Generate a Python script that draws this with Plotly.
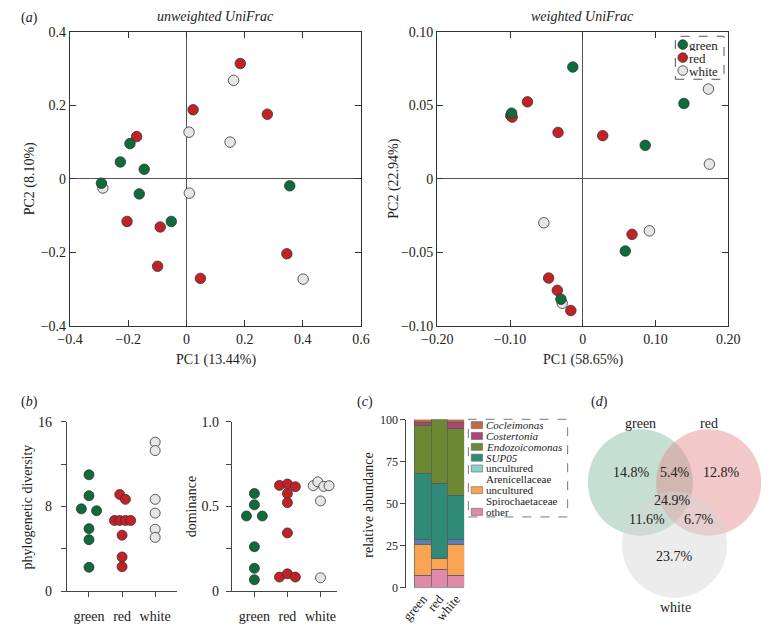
import plotly.graph_objects as go

W, H = 776, 633
FONT = "Liberation Serif, Times New Roman, serif"
INK = "#222222"

# ---------------- data ----------------
groups = ["green", "red", "white"]
group_colors = {"green": "#0e6b3b", "red": "#c42127", "white": "#e6e6e6"}

# (a) unweighted UniFrac PCoA
unw_green_pc1 = [-0.194, -0.227, -0.145, -0.292, -0.162, -0.052, 0.355]
unw_green_pc2 = [0.096, 0.046, 0.026, -0.012, -0.041, -0.116, -0.019]
unw_red_pc1 = [0.185, 0.023, 0.278, -0.171, -0.204, -0.090, -0.099, 0.048, 0.345]
unw_red_pc2 = [0.314, 0.188, 0.176, 0.115, -0.116, -0.131, -0.238, -0.271, -0.204]
unw_white_pc1 = [0.162, 0.009, 0.150, -0.287, 0.010, 0.401]
unw_white_pc2 = [0.268, 0.127, 0.100, -0.025, -0.039, -0.273]

# (a) weighted UniFrac PCoA
w_green_pc1 = [-0.0137, -0.0978, 0.139, 0.0858, 0.0584, -0.030]
w_green_pc2 = [0.0761, 0.0447, 0.0513, 0.0228, -0.0491, -0.0819]
w_red_pc1 = [-0.099, -0.097, -0.076, -0.034, 0.0274, 0.0677, -0.0469, -0.035, -0.0164]
w_red_pc2 = [0.043, 0.042, 0.0524, 0.0316, 0.0294, -0.0378, -0.0675, -0.0759, -0.0896]
w_white_pc1 = [0.1726, 0.174, -0.0535, 0.0916, -0.0283]
w_white_pc2 = [0.0611, 0.0100, -0.0299, -0.0354, -0.0847]

# (b) phylogenetic diversity and dominance (with swarm offsets)
pd_green = [11.0, 9.02, 7.78, 7.60, 5.91, 4.86, 2.25]
pd_red = [9.14, 8.68, 6.68, 6.68, 6.68, 6.68, 5.29, 3.23, 2.31]
pd_white = [14.09, 13.29, 8.68, 7.38, 5.85, 5.08]
dom_green = [0.577, 0.510, 0.444, 0.444, 0.262, 0.135, 0.067]
dom_red = [0.625, 0.633, 0.617, 0.577, 0.523, 0.344, 0.083, 0.102, 0.083]
dom_white = [0.623, 0.646, 0.619, 0.623, 0.533, 0.079]

pd_green_off = [0, 0, -0.23, 0.23, 0, 0, 0]
pd_red_off = [-0.07, 0.10, -0.23, -0.07, 0.10, 0.26, 0, 0, 0]
pd_white_off = [0, 0, 0, 0, 0, 0]
dom_green_off = [0, 0, -0.24, 0.24, 0, 0, 0]
dom_red_off = [-0.24, 0, 0.24, 0, 0, 0, -0.24, 0, 0.24]
dom_white_off = [-0.22, -0.08, 0.10, 0.26, 0, 0]

# (c) relative abundance (%)
taxa = ["Cocleimonas", "Costertonia", "Endozoicomonas", "SUP05",
        "uncultured Arenicellaceae", "uncultured Spirochaetaceae", "other"]
taxa_italic = [True, True, True, True, False, False, False]
abund_green = [2.0, 1.6, 28.3, 39.3, 2.9, 18.9, 7.0]
abund_red = [0.0, 0.0, 38.1, 44.5, 0.0, 6.8, 10.6]
abund_white = [1.9, 3.3, 39.7, 26.5, 3.1, 18.1, 7.4]
bar_colors = ["#bf6a42", "#ad4672", "#6b8934", "#2f8b78", "#5a7fb8", "#f8a453", "#de8aa8"]
legend_swatch_colors = ["#bf6a42", "#ad4672", "#6b8934", "#2f8b78", "#86d4c6", "#f8a453", "#de8aa8"]

# (d) Venn diagram percentages
venn_sets = ["green", "red", "white"]
venn_set_colors = ["rgb(126,186,157)", "rgb(226,133,133)", "rgb(213,213,213)"]
venn_pct = [14.8, 5.4, 12.8, 24.9, 11.6, 6.7, 23.7]

# ---------------- helpers ----------------
def px_x(p):
    return p / W


def px_y(p):
    return 1 - p / H


def neg(s):
    return s.replace("-", "\u2212")


tickfont = dict(family=FONT, size=14, color=INK)

fig = go.Figure()

# ---------------- (a) scatter ----------------
unw = {"green": (unw_green_pc1, unw_green_pc2), "red": (unw_red_pc1, unw_red_pc2),
       "white": (unw_white_pc1, unw_white_pc2)}
wei = {"green": (w_green_pc1, w_green_pc2), "red": (w_red_pc1, w_red_pc2),
       "white": (w_white_pc1, w_white_pc2)}
for data, ax in ((unw, ("x", "y")), (wei, ("x2", "y2"))):
    for g in ["white", "red", "green"]:
        fig.add_trace(go.Scatter(
            x=data[g][0], y=data[g][1], mode="markers", xaxis=ax[0], yaxis=ax[1],
            marker=dict(size=10.5, color=group_colors[g], line=dict(color="#333", width=0.8)),
            showlegend=False, hoverinfo="skip"))

# ---------------- (b) swarms ----------------
pd_vals = {"green": (pd_green, pd_green_off), "red": (pd_red, pd_red_off), "white": (pd_white, pd_white_off)}
dom_vals = {"green": (dom_green, dom_green_off), "red": (dom_red, dom_red_off), "white": (dom_white, dom_white_off)}
for data, ax in ((pd_vals, ("x3", "y3")), (dom_vals, ("x4", "y4"))):
    for i, g in enumerate(groups):
        vals, offs = data[g]
        fig.add_trace(go.Scatter(
            x=[i + o for o in offs], y=vals, mode="markers", xaxis=ax[0], yaxis=ax[1],
            marker=dict(size=10, color=group_colors[g], line=dict(color="#333", width=0.8)),
            showlegend=False, hoverinfo="skip", cliponaxis=False))

# ---------------- (c) stacked bars ----------------
for k in reversed(range(len(taxa))):
    fig.add_trace(go.Bar(
        x=[0, 1, 2], y=[abund_green[k], abund_red[k], abund_white[k]],
        width=1, xaxis="x5", yaxis="y5",
        marker=dict(color=bar_colors[k], line=dict(color="#555", width=0.6)),
        showlegend=False, hoverinfo="skip"))

# ---------------- axes ----------------
def box_axis(domain, rng, vals, texts, anchor):
    return dict(domain=domain, range=rng, tickvals=vals, ticktext=texts,
                ticks="inside", ticklen=6, tickwidth=1.2, tickcolor="#333",
                mirror="ticks", showline=True, linecolor="#333", linewidth=1.2,
                zeroline=True, zerolinecolor="#555", zerolinewidth=1,
                showgrid=False, anchor=anchor, tickfont=tickfont)


def open_axis(domain, rng, vals, texts, anchor, **kw):
    d = dict(domain=domain, range=rng, tickvals=vals, ticktext=texts,
             ticks="outside", ticklen=5, tickwidth=1.2, tickcolor="#444",
             showline=True, linecolor="#444", linewidth=1.2,
             zeroline=False, showgrid=False, anchor=anchor, tickfont=tickfont)
    d.update(kw)
    return d


a_xdom_l = [px_x(56), px_x(358)]
a_xdom_r = [px_x(437), px_x(739)]
a_ydom = [px_y(326.5), px_y(25.5)]

layout = dict(
    width=W, height=H, autosize=False,
    margin=dict(l=0, r=0, t=0, b=0),
    paper_bgcolor="white", plot_bgcolor="white",
    font=dict(family=FONT, size=14, color=INK),
    barmode="stack", bargap=0,
    xaxis=box_axis(a_xdom_l, [-0.4, 0.6], [-0.4, -0.2, 0, 0.2, 0.4, 0.6],
                   [neg(t) for t in ["-0.4", "-0.2", "0", "0.2", "0.4", "0.6"]], "y"),
    yaxis=box_axis(a_ydom, [-0.4, 0.4], [-0.4, -0.2, 0, 0.2, 0.4],
                   [neg(t) for t in ["-0.4", "-0.2", "0", "0.2", "0.4"]], "x"),
    xaxis2=box_axis(a_xdom_r, [-0.2, 0.2], [-0.2, -0.1, 0, 0.1, 0.2],
                    [neg(t) for t in ["-0.20", "-0.10", "0", "0.10", "0.20"]], "y2"),
    yaxis2=box_axis(a_ydom, [-0.1, 0.1], [-0.1, -0.05, 0, 0.05, 0.1],
                    [neg(t) for t in ["-0.10", "-0.05", "0", "0.05", "0.10"]], "x2"),
    xaxis3=open_axis([px_x(52.7), px_x(166.7)], [-0.67, 2.65], [0, 1, 2], groups, "y3",
                     ticklabelstandoff=7),
    yaxis3=open_axis([px_y(598.3), px_y(425)], [0, 16], [0, 4, 8, 12, 16],
                     ["0", "", "8", "", "16"], "x3", ticklabelstandoff=6),
    xaxis4=open_axis([px_x(224), px_x(333)], [-0.68, 2.5], [0, 1, 2], groups, "y4",
                     ticklabelstandoff=7),
    yaxis4=open_axis([px_y(598.3), px_y(425)], [0, 1], [0, 0.25, 0.5, 0.75, 1],
                     ["0", "", "0.5", "", "1.0"], "x4", ticklabelstandoff=4),
    xaxis5=dict(domain=[px_x(405), px_x(465)], range=[-0.98, 2.5], tickvals=[0, 1, 2],
                ticktext=groups, tickangle=-50, ticks="", showline=False, zeroline=False,
                showgrid=False, anchor="y5", tickfont=dict(family=FONT, size=13, color=INK)),
    yaxis5=open_axis([px_y(595), px_y(422.7)], [0, 100], [0, 25, 50, 75, 100],
                     ["0", "25", "50", "75", "100"], "x5", tickfont=dict(family=FONT, size=12, color=INK)),
    xaxis6=dict(domain=[px_x(590), 1], range=[-1.71, 1.703], visible=False, anchor="y6"),
    yaxis6=dict(domain=[0, px_y(400)], range=[-2.679, 1.596], visible=False, anchor="x6"),
)
fig.update_layout(**layout)

annotations = []
shapes = []


def ann(x, y, text, size=14, xanchor="center", yanchor="middle", angle=0, **kw):
    d = dict(x=x, y=y, xref="paper", yref="paper", text=text, showarrow=False,
             xanchor=xanchor, yanchor=yanchor, textangle=angle,
             font=dict(family=FONT, size=size, color=INK))
    d.update(kw)
    annotations.append(d)


# panel letters
ann(px_x(3), px_y(11), "(<i>a</i>)", xanchor="left")
ann(px_x(3), px_y(405), "(<i>b</i>)", xanchor="left")
ann(px_x(352), px_y(405), "(<i>c</i>)", xanchor="left")
ann(px_x(594), px_y(405), "(<i>d</i>)", xanchor="left")

# panel a titles
ann(px_x(207), px_y(10), "<i>unweighted UniFrac</i>")
ann(px_x(588), px_y(10), "<i>weighted UniFrac</i>")
ann(px_x(207), px_y(362), "PC1 (13.44%)")
ann(px_x(588), px_y(362), "PC1 (58.65%)")
ann(px_x(14), px_y(176), "PC2 (8.10%)", angle=-90)
ann(px_x(392), px_y(176), "PC2 (22.94%)", angle=-90)

# panel b / c axis titles
ann(px_x(12), px_y(512), "phylogenetic diversity", angle=-90)
ann(px_x(182), px_y(512), "dominance", angle=-90)
ann(px_x(366), px_y(510), "relative abundance", angle=-90)

# panel a legend (manual, dashed box)
shapes.append(dict(type="rect", xref="paper", yref="paper",
                   x0=px_x(684), x1=px_x(734.5), y0=px_y(74), y1=px_y(30),
                   line=dict(color="#555", width=1, dash="dash")))
for i, g in enumerate(groups):
    yy = 38.5 + i * 13.3
    shapes.append(dict(type="circle", xref="paper", yref="paper",
                       xsizemode="pixel", ysizemode="pixel",
                       xanchor=px_x(691.7), yanchor=px_y(yy),
                       x0=-4.8, x1=4.8, y0=-4.8, y1=4.8,
                       fillcolor=group_colors[g], line=dict(color="#333", width=0.8)))
    ann(px_x(697.5), px_y(yy), g, size=13, xanchor="left", height=12, borderpad=0)

# panel c legend (manual, dashed box)
shapes.append(dict(type="rect", xref="paper", yref="paper",
                   x0=px_x(469.3), x1=px_x(572.3), y0=px_y(522.3), y1=px_y(422.3),
                   line=dict(color="#777", width=1, dash="dash")))
line_h = 11.1
line_no = 0
for k, name in enumerate(taxa):
    yy = 428.3 + line_no * line_h
    shapes.append(dict(type="rect", xref="paper", yref="paper",
                       x0=px_x(472.3), x1=px_x(484), y0=px_y(yy + 3.6), y1=px_y(yy - 3.6),
                       fillcolor=legend_swatch_colors[k], line=dict(color="#666", width=0.6)))
    parts = name.split(" ", 1) if name.startswith("uncultured ") else [name]
    for li, t in enumerate(parts):
        txt = "<i>%s</i>" % t if taxa_italic[k] else t
        ann(px_x(486.5), px_y(yy + li * line_h), txt, size=11, xanchor="left",
            height=10, borderpad=0, valign="middle")
    line_no += len(parts)

# panel d Venn
r = 1.0
venn_centers = [(-0.65, 0.0), (0.65, 0.0), (0.0, -1.17)]
for (cx, cy), col in zip(venn_centers, venn_set_colors):
    shapes.append(dict(type="circle", xref="x6", yref="y6",
                       x0=cx - r, x1=cx + r, y0=cy - r, y1=cy + r,
                       fillcolor=col, opacity=0.45, line=dict(width=0), layer="below"))
venn_label_pos = [(-0.65, 1.11), (0.65, 1.11), (0.01, -2.35)]
for (lx, ly), name in zip(venn_label_pos, venn_sets):
    annotations.append(dict(x=lx, y=ly, xref="x6", yref="y6", text=name, showarrow=False,
                            font=dict(family=FONT, size=14, color=INK)))
venn_text_pos = [(-0.824, 0.189), (0.0, 0.189), (0.90, 0.189), (-0.03, -0.33),
                 (-0.517, -0.697), (0.46, -0.697), (0.0, -1.40)]
for (tx, ty), v in zip(venn_text_pos, venn_pct):
    annotations.append(dict(x=tx, y=ty, xref="x6", yref="y6", text="%.1f%%" % v,
                            showarrow=False, font=dict(family=FONT, size=14, color=INK)))

fig.update_layout(annotations=annotations, shapes=shapes)

fig.write_html("out.html", include_plotlyjs=True, config={"displayModeBar": False},
               post_script="document.body.style.margin='0';document.body.style.padding='0';")
